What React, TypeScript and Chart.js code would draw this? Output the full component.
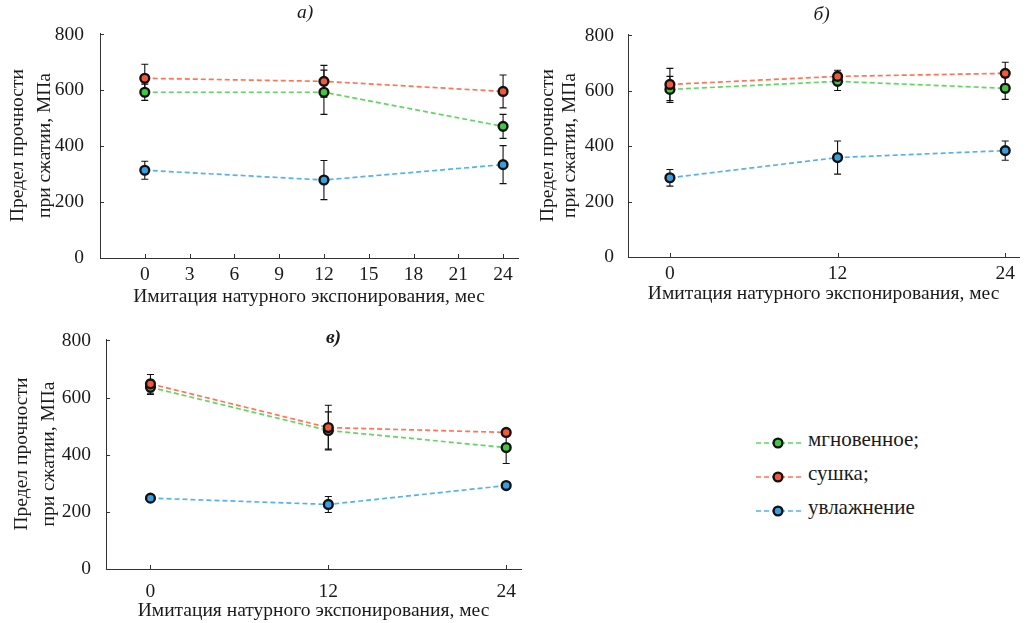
import React, { useEffect, useRef } from 'react';
import { Chart, registerables } from 'chart.js';

Chart.register(...registerables);

// ---------- data ----------
const seriesNames = ['мгновенное;', 'сушка;', 'увлажнение'];
const lineColors = ['#62d662', '#ff7455', '#55b2ee'];
const pointColors = ['#40c940', '#f4583a', '#3a9ee0'];

const months = [0, 12, 24];
const xTicksA = [0, 3, 6, 9, 12, 15, 18, 21, 24];
const xTicksBC = [0, 12, 24];
const yTicks = [0, 200, 400, 600, 800];

const yTitle = ['Предел прочности', 'при сжатии, МПа'];
const xTitle = 'Имитация натурного экспонирования, мес';

// panel а)
const aInstant = [593, 593, 471];
const aInstantErr = [29, 79, 43];
const aDrying = [643, 632, 596];
const aDryingErr = [50, 57, 59];
const aWet = [314, 279, 334];
const aWetErr = [32, 70, 68];

// panel б)
const bInstant = [605, 634, 609];
const bInstantErr = [47, 33, 40];
const bDrying = [623, 652, 663];
const bDryingErr = [58, 22, 40];
const bWet = [286, 359, 384];
const bWetErr = [30, 60, 35];

// panel в)
const cInstant = [636, 485, 425];
const cInstantErr = [25, 65, 56];
const cDrying = [648, 495, 478];
const cDryingErr = [33, 78, 10];
const cWet = [248, 226, 292];
const cWetErr = [10, 28, 8];

const FONT = "'Liberation Serif', 'Times New Roman', Times, serif";
const FS = 19.5;
const TEXT = '#1a1a1a';
const AXIS = '#333333';

// ---------- plugins ----------
const errorBarPlugin = {
  id: 'errorBars',
  beforeDatasetsDraw(chart: any) {
    const { ctx, scales } = chart;
    const x = scales.x, y = scales.y;
    ctx.save();
    ctx.strokeStyle = '#111';
    ctx.lineWidth = 1.1;
    chart.data.datasets.forEach((ds: any) => {
      const errs: number[] = ds.errors;
      if (!errs) return;
      ds.data.forEach((p: any, i: number) => {
        const px = x.getPixelForValue(p.x);
        const top = y.getPixelForValue(p.y + errs[i]);
        const bot = y.getPixelForValue(p.y - errs[i]);
        ctx.beginPath();
        ctx.moveTo(px, top); ctx.lineTo(px, bot);
        ctx.moveTo(px - 3.5, top); ctx.lineTo(px + 3.5, top);
        ctx.moveTo(px - 3.5, bot); ctx.lineTo(px + 3.5, bot);
        ctx.stroke();
      });
    });
    ctx.restore();
  },
};

const innerTicksPlugin = {
  id: 'innerTicks',
  beforeDatasetsDraw(chart: any) {
    const { ctx, chartArea, scales } = chart;
    const x = scales.x, y = scales.y;
    ctx.save();
    ctx.strokeStyle = AXIS;
    ctx.lineWidth = 1;
    ctx.beginPath();
    x.ticks.forEach((t: any) => {
      const px = Math.round(x.getPixelForValue(t.value)) + 0.5;
      ctx.moveTo(px, chartArea.bottom);
      ctx.lineTo(px, chartArea.bottom - 4);
    });
    y.ticks.forEach((t: any) => {
      const py = Math.round(y.getPixelForValue(t.value)) + 0.5;
      ctx.moveTo(chartArea.left, py);
      ctx.lineTo(chartArea.left + 4, py);
    });
    ctx.stroke();
    ctx.restore();
  },
};

const panelTitlePlugin = {
  id: 'panelTitle',
  afterDraw(chart: any, _args: any, opts: any) {
    const { ctx, chartArea } = chart;
    ctx.save();
    ctx.font = opts.font;
    ctx.fillStyle = TEXT;
    ctx.textAlign = 'center';
    ctx.textBaseline = 'middle';
    ctx.fillText(opts.text, (chartArea.left + chartArea.right) / 2 + opts.dx, opts.y);
    ctx.restore();
  },
};

// ---------- panels ----------
type Series = { values: number[]; errors: number[]; idx: number };
type PanelSpec = {
  left: number; top: number; width: number; height: number;
  padTop: number; padRight: number;
  yWidth: number; xHeight: number;
  yTitlePad: number; yTitleLH: number; xTitlePad: number;
  yTickPad: number; xTickPad: number;
  xTicks: number[];
  series: Series[];
  title: string; titleDx: number; titleY: number; titleFont: string;
};

const panels: PanelSpec[] = [
  {
    left: 0, top: 0, width: 535, height: 312, padTop: 33, padRight: 17,
    yWidth: 100, xHeight: 54, yTitlePad: 5, yTitleLH: 1.37, xTitlePad: 3,
    yTickPad: 8, xTickPad: -3, xTicks: xTicksA,
    series: [
      { values: aDrying, errors: aDryingErr, idx: 1 },
      { values: aInstant, errors: aInstantErr, idx: 0 },
      { values: aWet, errors: aWetErr, idx: 2 },
    ],
    title: 'а)', titleDx: -4, titleY: 13, titleFont: `italic ${FS}px ${FONT}`,
  },
  {
    left: 535, top: 0, width: 491, height: 312, padTop: 34, padRight: 0,
    yWidth: 93, xHeight: 55, yTitlePad: 2, yTitleLH: 1.13, xTitlePad: 6,
    yTickPad: 6, xTickPad: -3, xTicks: xTicksBC,
    series: [
      { values: bDrying, errors: bDryingErr, idx: 1 },
      { values: bInstant, errors: bInstantErr, idx: 0 },
      { values: bWet, errors: bWetErr, idx: 2 },
    ],
    title: 'б)', titleDx: -2, titleY: 15, titleFont: `italic ${FS}px ${FONT}`,
  },
  {
    left: 0, top: 320, width: 540, height: 303, padTop: 19, padRight: 19,
    yWidth: 106, xHeight: 54, yTitlePad: 9, yTitleLH: 1.35, xTitlePad: 0,
    yTickPad: 7, xTickPad: 3, xTicks: xTicksBC,
    series: [
      { values: cDrying, errors: cDryingErr, idx: 1 },
      { values: cInstant, errors: cInstantErr, idx: 0 },
      { values: cWet, errors: cWetErr, idx: 2 },
    ],
    title: 'в)', titleDx: 20, titleY: 18, titleFont: `italic bold ${FS}px ${FONT}`,
  },
];

function Panel({ spec }: { spec: PanelSpec }) {
  const ref = useRef<HTMLCanvasElement | null>(null);
  useEffect(() => {
    if (!ref.current) return;
    const tickFont = { family: FONT, size: FS };
    const chart = new Chart(ref.current, {
      type: 'line',
      data: {
        datasets: spec.series.map((s) => ({
          label: seriesNames[s.idx],
          data: months.map((m, i) => ({ x: m, y: s.values[i] })),
          errors: s.errors,
          borderColor: lineColors[s.idx],
          borderWidth: 1.7,
          borderDash: [5, 3],
          pointRadius: 4.4,
          pointBorderWidth: 2.4,
          pointBorderColor: '#111',
          pointBackgroundColor: pointColors[s.idx],
          tension: 0,
          fill: false,
        })) as any,
      },
      options: {
        responsive: false,
        animation: false,
        layout: { padding: { top: spec.padTop, right: spec.padRight, left: 0, bottom: 0 } },
        plugins: {
          legend: { display: false },
          tooltip: { enabled: false },
          panelTitle: { text: spec.title, dx: spec.titleDx, y: spec.titleY, font: spec.titleFont },
        } as any,
        scales: {
          x: {
            type: 'linear',
            min: -3,
            max: 25,
            afterBuildTicks: (s: any) => { s.ticks = spec.xTicks.map((v) => ({ value: v })); },
            afterFit: (s: any) => { s.height = spec.xHeight; },
            grid: { display: false },
            border: { display: true, color: AXIS, width: 1 },
            ticks: { font: tickFont, color: TEXT, padding: spec.xTickPad, maxRotation: 0, autoSkip: false },
            title: {
              display: true, text: xTitle, color: TEXT,
              font: { family: FONT, size: FS },
              padding: { top: 0, bottom: spec.xTitlePad },
            },
          },
          y: {
            type: 'linear',
            min: 0,
            max: 805,
            afterBuildTicks: (s: any) => { s.ticks = yTicks.map((v) => ({ value: v })); },
            afterFit: (s: any) => { s.width = spec.yWidth; },
            grid: { display: false },
            border: { display: true, color: AXIS, width: 1 },
            ticks: { font: tickFont, color: TEXT, padding: spec.yTickPad },
            title: {
              display: true, text: yTitle, color: TEXT,
              font: { family: FONT, size: FS, lineHeight: spec.yTitleLH },
              padding: { top: spec.yTitlePad, bottom: 0 },
            },
          },
        },
      } as any,
      plugins: [errorBarPlugin, innerTicksPlugin, panelTitlePlugin],
    });
    return () => chart.destroy();
  }, [spec]);
  return (
    <canvas
      ref={ref}
      width={spec.width}
      height={spec.height}
      style={{ position: 'absolute', left: spec.left, top: spec.top, width: spec.width, height: spec.height, display: 'block' }}
    />
  );
}

const legendOrder = [0, 1, 2];
const legendRowY = [443, 477, 511];

function Legend() {
  return (
    <svg
      width={220}
      height={110}
      viewBox="740 420 220 110"
      style={{ position: 'absolute', left: 740, top: 420, display: 'block' }}
    >
      {legendOrder.map((idx, r) => (
        <g key={idx}>
          <line x1={756} x2={801} y1={legendRowY[r]} y2={legendRowY[r]} stroke={lineColors[idx]} strokeWidth={1.7} strokeDasharray="5 3" />
          <circle cx={778} cy={legendRowY[r]} r={4.4} fill={pointColors[idx]} stroke="#111" strokeWidth={2.4} />
          <text x={808} y={legendRowY[r] + 3} fontFamily={FONT} fontSize={21} fill={TEXT}>{seriesNames[idx]}</text>
        </g>
      ))}
    </svg>
  );
}

export default function App() {
  return (
    <div style={{ position: 'absolute', left: 0, top: 0, width: 1026, height: 623, background: '#fff', overflow: 'hidden' }}>
      {panels.map((p, i) => <Panel key={i} spec={p} />)}
      <Legend />
    </div>
  );
}
